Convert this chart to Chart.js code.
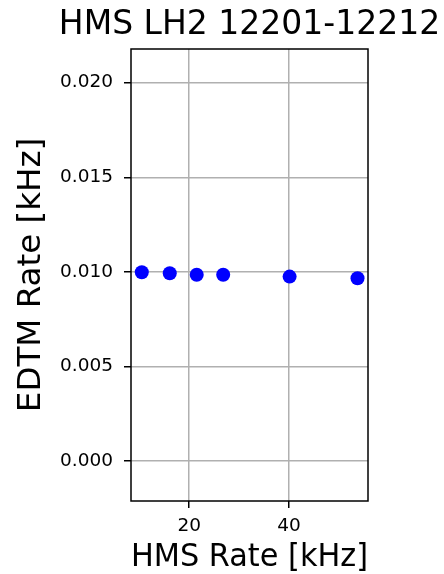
<!DOCTYPE html>
<html>
<head>
<meta charset="utf-8">
<title>HMS LH2 12201-12212</title>
<script src="https://cdn.jsdelivr.net/npm/chart.js@4/dist/chart.umd.min.js"></script>
<style>
  html, body { margin: 0; padding: 0; background: #ffffff; }
  #wrap { width: 444px; height: 574px; }
</style>
</head>
<body>
<div id="wrap"><canvas id="chart" width="444" height="574"></canvas></div>
<script>
// Measured rates for runs 12201-12212
const hmsRate  = [10.5, 16.1, 21.5, 26.8, 40.1, 53.7];          // kHz
const edtmRate = [0.00998, 0.00993, 0.00985, 0.00985, 0.00975, 0.00966]; // kHz

// Axis ranges and tick spacing
const xRange = [8.34, 55.8];
const yRange = [-0.00211, 0.02178];
const xStep = 20;
const yStep = 0.005;

const titleText = 'HMS LH2 12201-12212';
const FONT = "'DejaVu Sans', sans-serif";

// Black frame around the plotting area
const framePlugin = {
  id: 'frame',
  afterDraw(chart) {
    const { ctx, chartArea: a } = chart;
    ctx.save();
    ctx.strokeStyle = '#000';
    ctx.lineWidth = 1.5;
    ctx.strokeRect(a.left, a.top, a.right - a.left, a.bottom - a.top);
    ctx.restore();
  }
};

// Title centred over the plotting area, allowed to run past its edges
const axesTitlePlugin = {
  id: 'axesTitle',
  afterDraw(chart) {
    const { ctx, chartArea: a } = chart;
    ctx.save();
    ctx.fillStyle = '#000';
    ctx.font = `33px ${FONT}`;
    ctx.textAlign = 'center';
    ctx.textBaseline = 'middle';
    ctx.fillText(titleText, (a.left + a.right) / 2, a.top - 24);
    ctx.restore();
  }
};

new Chart(document.getElementById('chart'), {
  type: 'scatter',
  data: {
    datasets: [{
      data: hmsRate.map((x, i) => ({ x, y: edtmRate[i] })),
      backgroundColor: '#0000ff',
      borderColor: '#0000ff',
      borderWidth: 0,
      pointRadius: 7,
      pointHoverRadius: 7
    }]
  },
  options: {
    responsive: false,
    animation: false,
    devicePixelRatio: 1,
    layout: { padding: { top: 49, right: 76, bottom: 0, left: 0 } },
    plugins: {
      legend: { display: false },
      tooltip: { enabled: false },
      title: { display: false }
    },
    scales: {
      x: {
        type: 'linear',
        min: xRange[0],
        max: xRange[1],
        border: { display: false },
        grid: { color: '#b0b0b0', lineWidth: 1.5, tickColor: '#000', tickWidth: 1.5, tickLength: 7 },
        ticks: {
          stepSize: xStep,
          includeBounds: false,
          color: '#000',
          padding: 7,
          font: { family: FONT, size: 18.5, lineHeight: 1.2 },
          maxRotation: 0
        },
        title: {
          display: true,
          text: 'HMS Rate [kHz]',
          color: '#000',
          font: { family: FONT, size: 32.5, lineHeight: 1 },
          padding: { top: 0, bottom: 0 }
        },
        afterFit(scale) { scale.height = 73; }
      },
      y: {
        type: 'linear',
        min: yRange[0],
        max: yRange[1],
        border: { display: false },
        grid: { color: '#b0b0b0', lineWidth: 1.5, tickColor: '#000', tickWidth: 1.5, tickLength: 7 },
        ticks: {
          stepSize: yStep,
          includeBounds: false,
          color: '#000',
          padding: 11,
          font: { family: FONT, size: 18.5, lineHeight: 1.2 },
          callback: v => v.toFixed(3)
        },
        title: {
          display: true,
          text: 'EDTM Rate [kHz]',
          color: '#000',
          font: { family: FONT, size: 32.5, lineHeight: 1.2 },
          padding: { top: 12, bottom: 0 }
        },
        afterFit(scale) { scale.width = 131; }
      }
    }
  },
  plugins: [framePlugin, axesTitlePlugin]
});
</script>
</body>
</html>
